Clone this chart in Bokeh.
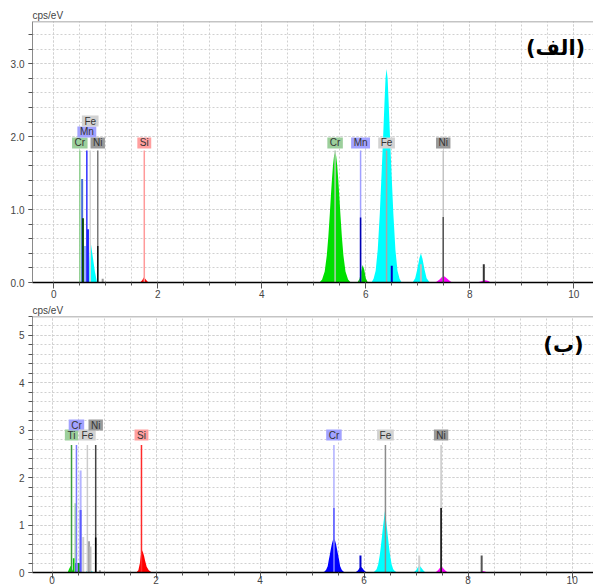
from bokeh.plotting import figure
from bokeh.layouts import column
from bokeh.models import Range1d, SingleIntervalTicker, Span, Label, PrintfTickFormatter
from bokeh.embed import file_html
from bokeh.resources import INLINE
from bokeh.core.properties import value

# ---------------- Panel (الف) ----------------
A_TITLE = "(الف)"
# filled peaks: energy (keV) / counts (cps/eV)
A_SI_E = [1.66, 1.70, 1.73, 1.75, 1.78, 1.82]
A_SI_C = [0, 0.03, 0.07, 0.06, 0.03, 0]
A_FEL_E = [0.66, 0.68, 0.70, 0.71, 0.73, 0.75, 0.77, 0.79, 0.81, 0.83]
A_FEL_C = [0, 0.30, 0.50, 0.55, 0.45, 0.35, 0.25, 0.15, 0.08, 0]
A_CRK_E = [5.11, 5.16, 5.21, 5.25, 5.28, 5.31, 5.33, 5.35, 5.37, 5.39, 5.41,
           5.43, 5.45, 5.47, 5.49, 5.51, 5.54, 5.57, 5.61, 5.66, 5.71]
A_CRK_C = [0, 0.04, 0.15, 0.37, 0.63, 0.96, 1.20, 1.42, 1.61, 1.74, 1.78,
           1.74, 1.61, 1.42, 1.20, 0.96, 0.63, 0.37, 0.15, 0.04, 0]
A_MNK_E = [5.84, 5.88, 5.91, 5.94, 5.97, 6.00, 6.04]
A_MNK_C = [0, 0.05, 0.15, 0.24, 0.18, 0.06, 0]
A_FEK_E = [6.11, 6.15, 6.19, 6.23, 6.27, 6.30, 6.33, 6.36, 6.38, 6.40,
           6.42, 6.44, 6.47, 6.50, 6.53, 6.57, 6.61, 6.65, 6.69]
A_FEK_C = [0, 0.05, 0.16, 0.45, 0.95, 1.43, 1.93, 2.47, 2.80, 2.93,
           2.80, 2.47, 1.93, 1.43, 0.95, 0.45, 0.16, 0.05, 0]
A_FEKB_E = [6.90, 6.95, 6.99, 7.03, 7.06, 7.09, 7.13, 7.17, 7.23]
A_FEKB_C = [0, 0.06, 0.18, 0.33, 0.40, 0.33, 0.18, 0.06, 0]
A_NIK_E = [7.34, 7.42, 7.47, 7.50, 7.54, 7.60, 7.66]
A_NIK_C = [0, 0.04, 0.08, 0.09, 0.07, 0.03, 0]
A_NIKB_E = [8.14, 8.24, 8.30, 8.36, 8.40]
A_NIKB_C = [0, 0.02, 0.03, 0.02, 0]
# thin spikes
A_SPIKE_E = [0.545, 0.56, 0.60, 0.655, 0.94, 6.50, 7.06, 8.27]
A_SPIKE_H = [1.42, 0.88, 0.50, 0.73, 0.05, 0.23, 0.25, 0.25]
# element markers
A_MARK_EL = ["Cr", "Mn", "Fe", "Ni", "Si", "Cr", "Mn", "Fe", "Ni"]
A_MARK_E = [0.50, 0.635, 0.70, 0.845, 1.74, 5.41, 5.90, 6.40, 7.49]
A_MARK_DARK = [0, 0, 0, 0.50, 0, 0, 0.89, 0, 0.90]

# ---------------- Panel (ب) ----------------
B_TITLE = "(ب)"
B_SI_E = [1.62, 1.66, 1.69, 1.71, 1.73, 1.75, 1.77, 1.79, 1.82, 1.86, 1.92]
B_SI_C = [0, 0.05, 0.20, 0.38, 0.47, 0.42, 0.35, 0.25, 0.12, 0.05, 0]
B_TI_E = [0.30, 0.33, 0.36, 0.39, 0.42]
B_TI_C = [0, 0.08, 0.14, 0.06, 0]
B_FEL_E = [0.64, 0.68, 0.72, 0.76, 0.80]
B_FEL_C = [0, 0.04, 0.06, 0.03, 0]
B_CRK_E = [5.20, 5.24, 5.27, 5.30, 5.32, 5.34, 5.36, 5.38, 5.40, 5.42,
           5.44, 5.46, 5.48, 5.50, 5.52, 5.54, 5.57, 5.60, 5.64]
B_CRK_C = [0, 0.02, 0.06, 0.13, 0.26, 0.37, 0.49, 0.60, 0.68, 0.71,
           0.68, 0.60, 0.49, 0.37, 0.26, 0.13, 0.06, 0.02, 0]
B_CRKB_E = [5.83, 5.88, 5.91, 5.94, 5.97, 6.00, 6.05]
B_CRKB_C = [0, 0.04, 0.09, 0.12, 0.09, 0.04, 0]
B_FEK_E = [6.17, 6.21, 6.24, 6.27, 6.30, 6.32, 6.34, 6.36, 6.38, 6.40,
           6.42, 6.44, 6.46, 6.48, 6.50, 6.53, 6.56, 6.59, 6.63]
B_FEK_C = [0, 0.03, 0.07, 0.17, 0.36, 0.53, 0.73, 0.94, 1.12, 1.29,
           1.12, 0.94, 0.73, 0.53, 0.36, 0.17, 0.07, 0.03, 0]
B_FEKB_E = [6.95, 7.00, 7.04, 7.07, 7.10, 7.14, 7.18]
B_FEKB_C = [0, 0.05, 0.12, 0.14, 0.10, 0.04, 0]
B_NIK_E = [7.37, 7.42, 7.46, 7.49, 7.52, 7.56, 7.61]
B_NIK_C = [0, 0.05, 0.10, 0.12, 0.09, 0.04, 0]
B_NIKB_E = [8.22, 8.28, 8.32, 8.38]
B_NIKB_C = [0, 0.03, 0.02, 0]
B_SPIKE_E = [0.42, 0.45, 0.47, 0.52, 0.55, 0.55, 0.60, 0.71, 0.74, 0.92, 5.93, 7.06, 8.26]
B_SPIKE_H = [0.30, 1.46, 0.20, 0.20, 2.15, 1.32, 0.75, 0.66, 0.55, 0.05, 0.36, 0.36, 0.36]
B_MARK_EL = ["Ti", "Cr", "Fe", "Ni", "Si", "Cr", "Fe", "Ni"]
B_MARK_E = [0.375, 0.47, 0.68, 0.84, 1.72, 5.42, 6.41, 7.48]
B_MARK_DARK = [0, 0, 0, 0.74, 0, 1.36, 0, 1.36]

Y_LABEL = "cps/eV"

# ---------------- styling helpers ----------------
FONT = "Liberation Sans"
CHAR_W = {"C": 7.2, "r": 3.3, "M": 8.3, "n": 5.6, "F": 6.1, "e": 5.6,
          "N": 7.2, "i": 2.2, "S": 6.7, "T": 6.1}
BOX_FILL = {"green": "#9ccf9c", "blue": "#a2a2ff", "lgrey": "#d2d2d2",
            "dgrey": "#9a9a9a", "red": "#ff9f9f"}


def make_fig(height, xr, yr, top_border, bottom_border, yfmt, minor_n, xstandoff):
    p = figure(width=593, height=height, x_range=Range1d(*xr), y_range=Range1d(*yr),
               output_backend="svg", toolbar_location=None, title=Y_LABEL,
               min_border_left=32, min_border_right=0,
               min_border_top=top_border, min_border_bottom=bottom_border)
    p.title.text_font = FONT
    p.title.text_font_size = "10px"
    p.title.text_font_style = "normal"
    p.title.text_color = "#444444"
    p.title.align = "left"
    p.title.standoff = 1
    p.title.offset = 0
    p.outline_line_color = None
    p.background_fill_color = "white"
    p.border_fill_color = "white"

    p.xaxis.ticker = SingleIntervalTicker(interval=2, num_minor_ticks=4)
    p.yaxis.ticker = SingleIntervalTicker(interval=1, num_minor_ticks=minor_n)
    p.yaxis.formatter = PrintfTickFormatter(format=yfmt)
    for ax in (p.xaxis[0], p.yaxis[0]):
        ax.major_label_text_font = FONT
        ax.major_label_text_font_size = "10px"
        ax.major_label_text_color = "#444444"
        ax.major_tick_line_color = "#555555"
        ax.minor_tick_line_color = "#555555"
        ax.major_tick_in = 0
        ax.minor_tick_in = 0
        ax.axis_label_standoff = 0
    p.xaxis.axis_line_color = "black"
    p.xaxis.axis_line_width = 1.5
    p.xaxis.major_tick_out = 6
    p.xaxis.minor_tick_out = 3
    p.xaxis.major_label_standoff = xstandoff
    p.yaxis.axis_line_color = "#8a8a8a"
    p.yaxis.major_tick_out = 4
    p.yaxis.minor_tick_out = 4
    p.yaxis.major_label_standoff = 4

    for g in (p.xgrid[0], p.ygrid[0]):
        g.grid_line_color = "#d0d0d0"
        g.grid_line_dash = "2 2"
        g.minor_grid_line_color = "#d0d0d0"
        g.minor_grid_line_dash = "2 2"
    p.add_layout(Span(location=yr[1], dimension="width", line_color="#8a8a8a", line_width=1.5))
    return p


def draw_panel(p, peaks, spikes, spike_colors, marks, light_cols, dark_cols,
               box_keys, rows, line_top, row_y, title, title_xy):
    for e, c, col in peaks:
        p.varea(x=e, y1=[0] * len(e), y2=c, fill_color=col)
    se, sh = spikes
    p.segment(x0=se, y0=[0] * len(se), x1=se, y1=sh, line_color=spike_colors, line_width=2)
    el, me, md = marks
    p.segment(x0=me, y0=[0] * len(me), x1=me, y1=[line_top] * len(me),
              line_color=light_cols, line_width=1.5)
    de = [x for x, h in zip(me, md) if h > 0]
    dh = [h for h in md if h > 0]
    dc = [c for c, h in zip(dark_cols, md) if h > 0]
    p.segment(x0=de, y0=[0] * len(de), x1=de, y1=dh, line_color=dc, line_width=1.5)
    ys = [row_y[r] for r in rows]
    widths = [sum(CHAR_W[ch] for ch in t) + 5 for t in el]
    p.rect(x=me, y=ys, width=widths, height=[11] * len(me), width_units="screen",
           height_units="screen", fill_color=[BOX_FILL[k] for k in box_keys],
           line_color=None)
    p.text(x=me, y=ys, text=el, text_font=value(FONT), text_font_size="10px",
           text_align="center", text_baseline="middle", text_color="#333333")
    p.add_layout(Label(x=title_xy[0], y=title_xy[1], text=title, text_align="right",
                       text_baseline="middle", text_font="DejaVu Sans",
                       text_font_style="bold", text_font_size="21px", text_color="black"))


# ---------- panel A ----------
p1 = make_fig(302, (-0.41, 10.38), (0, 3.58), 21, 20, "%.1f", 5, 1)
draw_panel(
    p1,
    peaks=[(A_SI_E, A_SI_C, "#ff0000"), (A_FEL_E, A_FEL_C, "#00ffff"),
           (A_CRK_E, A_CRK_C, "#00e000"), (A_MNK_E, A_MNK_C, "#00d000"),
           (A_FEK_E, A_FEK_C, "#00ffff"), (A_FEKB_E, A_FEKB_C, "#00ffff"),
           (A_NIK_E, A_NIK_C, "#ff00ff"), (A_NIKB_E, A_NIKB_C, "#ff00ff")],
    spikes=(A_SPIKE_E, A_SPIKE_H),
    spike_colors=["#4a6fd8", "#0b4d0b", "#9ab0ff", "#1010ff", "#999999",
                  "#0000cc", "#bbbbbb", "#333333"],
    marks=(A_MARK_EL, A_MARK_E, A_MARK_DARK),
    light_cols=["#8fcf8f", "#3030ff", "#d4d4d4", "#7a7a7a", "#ff9a9a",
                "#b0ccb0", "#a0a0ff", "#a8a8a8", "#c4c4c4"],
    dark_cols=[None, None, None, "#111111", None, None, "#0000b0", None, "#555555"],
    box_keys=["green", "blue", "lgrey", "dgrey", "red", "green", "blue", "lgrey", "dgrey"],
    rows=[1, 2, 3, 1, 1, 1, 1, 1, 1],
    line_top=1.81, row_y={1: 1.915, 2: 2.065, 3: 2.215},
    title=A_TITLE, title_xy=(10.22, 3.21))

# ---------- panel B ----------
p2 = make_fig(284, (-0.375, 10.41), (0, 5.4), 12, 12, "%d", 5, -3)
draw_panel(
    p2,
    peaks=[(B_SI_E, B_SI_C, "#ff0000"), (B_TI_E, B_TI_C, "#00dd00"),
           (B_FEL_E, B_FEL_C, "#00ffff"), (B_CRK_E, B_CRK_C, "#0000ff"),
           (B_CRKB_E, B_CRKB_C, "#0000ff"), (B_FEK_E, B_FEK_C, "#00ffff"),
           (B_FEKB_E, B_FEKB_C, "#00ffff"), (B_NIK_E, B_NIK_C, "#ff00ff"),
           (B_NIKB_E, B_NIKB_C, "#ff00ff")],
    spikes=(B_SPIKE_E, B_SPIKE_H),
    spike_colors=["#00cc00", "#a8dca8", "#0000aa", "#009900", "#b4b4ff", "#5c5cff",
                  "#d0d0d0", "#a0a0a0", "#c0c0c0", "#999999", "#0000cc", "#d0d0d0",
                  "#555555"],
    marks=(B_MARK_EL, B_MARK_E, B_MARK_DARK),
    light_cols=["#3c9c3c", "#7a7aff", "#cccccc", "#444444", "#ff2a2a",
                "#b0b0ff", "#8c8c8c", "#c8c8c8"],
    dark_cols=[None, None, None, "#000000", None, "#5a5aff", None, "#000000"],
    box_keys=["green", "blue", "lgrey", "dgrey", "red", "blue", "lgrey", "dgrey"],
    rows=[1, 2, 1, 2, 1, 1, 1, 1],
    line_top=2.69, row_y={1: 2.9, 2: 3.11},
    title=B_TITLE, title_xy=(10.22, 4.8))

layout = column(p1, p2, spacing=0)
open("out.html", "w").write(file_html(layout, INLINE))
